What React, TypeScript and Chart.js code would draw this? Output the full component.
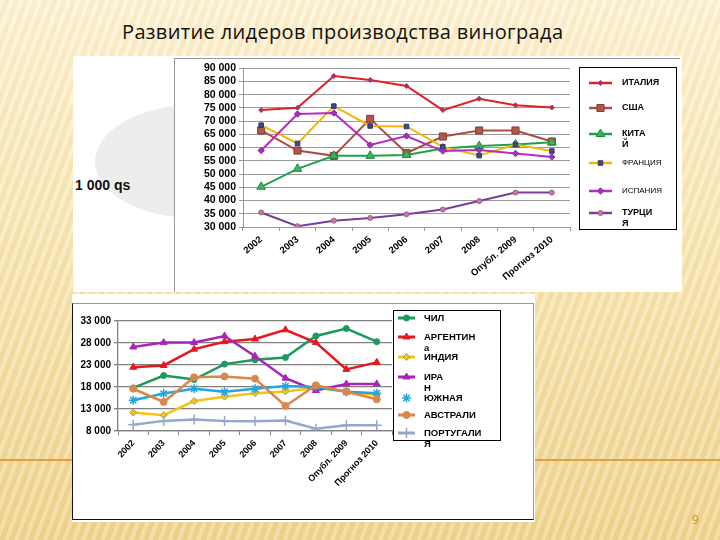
import React, { useEffect, useRef } from "react";
import { Chart, registerables } from "chart.js";
Chart.register(...registerables);

// ---------- DATA ----------
const years = ["2002", "2003", "2004", "2005", "2006", "2007", "2008", "Опубл. 2009", "Прогноз 2010"];

const topTicks = [30000, 35000, 40000, 45000, 50000, 55000, 60000, 65000, 70000, 75000, 80000, 85000, 90000];
const italy = [74200, 75100, 87100, 85600, 83300, 74200, 78500, 76000, 75200];
const usa = [66500, 58900, 56900, 70900, 58000, 64200, 66500, 66500, 62300];
const china = [45200, 52000, 56900, 56900, 57200, 59700, 60600, 61200, 62000];
const france = [68500, 61600, 75700, 68200, 68000, 60300, 57000, 61200, 58700];
const spain = [58900, 72700, 73100, 61000, 64400, 58700, 59100, 57800, 56500];
const turkey = [35500, 30300, 32400, 33400, 34800, 36600, 39800, 43000, 43000];
const topNames = ["ИТАЛИЯ", "США", "КИТАЙ", "ФРАНЦИЯ", "ИСПАНИЯ", "ТУРЦИЯ"];
const topLegendText = [["ИТАЛИЯ"], ["США"], ["КИТА", "Й"], ["ФРАНЦИЯ"], ["ИСПАНИЯ"], ["ТУРЦИ", "Я"]];

const bottomTicks = [8000, 13000, 18000, 23000, 28000, 33000];
const chile = [17800, 20600, 19700, 23200, 24200, 24700, 29600, 31300, 28300];
const argentina = [22500, 22900, 26600, 28300, 28900, 31000, 28100, 22000, 23600];
const india = [12200, 11600, 14800, 15800, 16600, 17000, 17800, 17000, 16200];
const iran = [27100, 28100, 28100, 29600, 25000, 20000, 17200, 18700, 18700];
const southAfrica = [15000, 16500, 17600, 16900, 17600, 18200, 18000, 16900, 16600];
const australia = [17600, 14600, 20200, 20400, 19900, 13700, 18400, 16900, 15200];
const portugal = [9400, 10300, 10600, 10300, 10200, 10400, 8500, 9300, 9300];
const bottomNames = ["ЧИЛИ", "АРГЕНТИНА", "ИНДИЯ", "ИРАН", "ЮЖНАЯ АФРИКА", "АВСТРАЛИЯ", "ПОРТУГАЛИЯ"];
const bottomLegendText = [["ЧИЛ"], ["АРГЕНТИН", "а"], ["ИНДИЯ"], ["ИРА", "Н"], ["ЮЖНАЯ"], ["АВСТРАЛИ"], ["ПОРТУГАЛИ", "Я"]];

// ---------- STYLE ----------
const FONT = "'Liberation Sans', Arial, sans-serif";
const fmt = (v: number) => String(v).replace(/\B(?=(\d{3})+(?!\d))/g, " ");

type Style = { line: string; point: string; stroke: string; shape: string; r: number; w: number; legendLine?: boolean };
const topStyles: Style[] = [
  { line: "#e41e26", point: "#a8355d", stroke: "#a8355d", shape: "rectRot", r: 2.5, w: 2 },
  { line: "#a85042", point: "#b0584d", stroke: "#8b3a30", shape: "rect", r: 5, w: 2 },
  { line: "#1fa24a", point: "#3cb35d", stroke: "#1f8a40", shape: "triangle", r: 5, w: 2 },
  { line: "#f7b500", point: "#3c4a8a", stroke: "#2a3570", shape: "rect", r: 3.2, w: 2 },
  { line: "#b32dc2", point: "#a530c0", stroke: "#8a2aa0", shape: "rectRot", r: 3.2, w: 2 },
  { line: "#7a3ba0", point: "#c77a9a", stroke: "#a06080", shape: "circle", r: 2.5, w: 2 },
];
const bottomStyles: Style[] = [
  { line: "#1a9a5c", point: "#1a9a5c", stroke: "#1a9a5c", shape: "circle", r: 3, w: 2.5 },
  { line: "#e5181e", point: "#e5181e", stroke: "#e5181e", shape: "triangle", r: 4, w: 2.5 },
  { line: "#f5c316", point: "#e8c530", stroke: "#b8a030", shape: "rectRot", r: 3.5, w: 2.5 },
  { line: "#a724b5", point: "#a724b5", stroke: "#a724b5", shape: "triangle", r: 4, w: 2.5 },
  { line: "#23a6df", point: "#23a6df", stroke: "#23a6df", shape: "star", r: 4.5, w: 2.5, legendLine: false },
  { line: "#d9874a", point: "#d9874a", stroke: "#d9874a", shape: "circle", r: 3.5, w: 2.5 },
  { line: "#94a7cc", point: "#94a7cc", stroke: "#94a7cc", shape: "cross", r: 5, w: 2.5 },
];

function drawMarker(ctx: CanvasRenderingContext2D, s: Style, x: number, y: number) {
  const r = s.r;
  ctx.save();
  ctx.fillStyle = s.point;
  ctx.strokeStyle = s.stroke;
  ctx.lineWidth = 1;
  ctx.beginPath();
  if (s.shape === "rect") {
    const h = Math.SQRT1_2 * r;
    ctx.rect(x - h, y - h, 2 * h, 2 * h);
    ctx.fill(); ctx.stroke();
  } else if (s.shape === "rectRot") {
    ctx.moveTo(x, y - r); ctx.lineTo(x + r, y); ctx.lineTo(x, y + r); ctx.lineTo(x - r, y); ctx.closePath();
    ctx.fill(); ctx.stroke();
  } else if (s.shape === "triangle") {
    ctx.moveTo(x, y - r); ctx.lineTo(x + r * 0.866, y + r * 0.5); ctx.lineTo(x - r * 0.866, y + r * 0.5); ctx.closePath();
    ctx.fill(); ctx.stroke();
  } else if (s.shape === "circle") {
    ctx.arc(x, y, r, 0, Math.PI * 2);
    ctx.fill(); ctx.stroke();
  } else if (s.shape === "star") {
    ctx.lineWidth = 1.5;
    for (let i = 0; i < 4; i++) {
      const a = (i * Math.PI) / 4;
      ctx.moveTo(x - Math.cos(a) * r, y - Math.sin(a) * r);
      ctx.lineTo(x + Math.cos(a) * r, y + Math.sin(a) * r);
    }
    ctx.stroke();
  } else if (s.shape === "cross") {
    ctx.lineWidth = 1.5;
    ctx.moveTo(x - r, y); ctx.lineTo(x + r, y); ctx.moveTo(x, y - r); ctx.lineTo(x, y + r);
    ctx.stroke();
  }
  ctx.restore();
}

type LegendLayout = {
  box: [number, number, number, number];
  lineX: [number, number];
  textX: number;
  rows: number[];
  gap: number;
  fonts: string[];
};

function legendPlugin(id: string, styles: Style[], texts: string[][], L: LegendLayout) {
  return {
    id,
    afterDraw(chart: any) {
      const ctx: CanvasRenderingContext2D = chart.ctx;
      ctx.save();
      ctx.strokeStyle = "#000";
      ctx.lineWidth = 1;
      const [bx, by, bw, bh] = L.box;
      ctx.strokeRect(bx + 0.5, by + 0.5, bw, bh);
      chart.data.datasets.forEach((_: any, i: number) => {
        const s = styles[i];
        const y = L.rows[i];
        if (s.legendLine !== false) {
          ctx.strokeStyle = s.line;
          ctx.lineWidth = s.w + 0.5;
          ctx.beginPath();
          ctx.moveTo(L.lineX[0], y);
          ctx.lineTo(L.lineX[1], y);
          ctx.stroke();
        }
        drawMarker(ctx, s, (L.lineX[0] + L.lineX[1]) / 2, y);
        ctx.fillStyle = "#000";
        ctx.font = L.fonts[i];
        ctx.textBaseline = "middle";
        ctx.textAlign = "left";
        texts[i].forEach((t, k) => ctx.fillText(t, L.textX, y + k * L.gap));
      });
      ctx.restore();
    },
  };
}

function makeDatasets(names: string[], series: number[][], styles: Style[]) {
  return series.map((d, i) => {
    const s = styles[i];
    return {
      label: names[i],
      data: d,
      borderColor: s.line,
      backgroundColor: s.point,
      borderWidth: s.w,
      pointStyle: s.shape,
      pointRadius: s.r,
      pointBackgroundColor: s.point,
      pointBorderColor: s.stroke,
      pointBorderWidth: s.shape === "star" || s.shape === "cross" ? 1.5 : 1,
      tension: 0,
      fill: false,
      order: -i,
    };
  });
}

function config(opts: {
  names: string[];
  series: number[][];
  styles: Style[];
  ticks: number[];
  padding: any;
  yWidth: number;
  xHeight: number;
  xFont: number;
  yFont: number;
  rot: number;
  gridColor: string;
  gridWidth: number;
  plugin: any;
}): any {
  const step = opts.ticks[1] - opts.ticks[0];
  return {
    type: "line",
    data: { labels: years, datasets: makeDatasets(opts.names, opts.series, opts.styles) },
    plugins: [opts.plugin],
    options: {
      responsive: false,
      animation: false,
      layout: { padding: opts.padding },
      plugins: { legend: { display: false }, tooltip: { enabled: false } },
      scales: {
        x: {
          offset: true,
          grid: { offset: true, drawOnChartArea: false, drawTicks: true, tickLength: 4, color: opts.gridColor },
          border: { color: opts.gridColor, width: opts.gridWidth },
          ticks: {
            autoSkip: false,
            maxRotation: opts.rot,
            minRotation: opts.rot,
            padding: 3,
            color: "#000",
            font: { family: FONT, size: opts.xFont, weight: "bold" },
          },
          afterFit: (s: any) => { s.height = opts.xHeight; },
        },
        y: {
          min: opts.ticks[0],
          max: opts.ticks[opts.ticks.length - 1],
          grid: { color: opts.gridColor, lineWidth: opts.gridWidth, tickLength: 4 },
          border: { display: true, color: opts.gridColor, width: opts.gridWidth },
          ticks: {
            autoSkip: false,
            stepSize: step,
            padding: 3,
            color: "#000",
            font: { family: FONT, size: opts.yFont, weight: "bold" },
            callback: (v: number) => fmt(v),
          },
          afterFit: (s: any) => { s.width = opts.yWidth; },
        },
      },
    },
  };
}

export default function App() {
  const topRef = useRef<HTMLCanvasElement>(null);
  const botRef = useRef<HTMLCanvasElement>(null);

  useEffect(() => {
    const boldTop = `bold 9px ${FONT}`;
    const normTop = `8px ${FONT}`;
    const c1 = new Chart(
      topRef.current!,
      config({
        names: topNames,
        series: [italy, usa, china, france, spain, turkey],
        styles: topStyles,
        ticks: topTicks,
        padding: { left: 0, right: 110, top: 6, bottom: 0 },
        yWidth: 68,
        xHeight: 65,
        xFont: 9.5,
        yFont: 10.5,
        rot: 40,
        gridColor: "#999999",
        gridWidth: 1,
        plugin: legendPlugin("topLegend", topStyles, topLegendText, {
          box: [404, 8, 97, 162],
          lineX: [414, 437],
          textX: 447,
          rows: [24, 49, 75, 104, 132, 154],
          gap: 11,
          fonts: [boldTop, boldTop, boldTop, normTop, normTop, boldTop],
        }),
      })
    );
    const boldBot = `bold 9.5px ${FONT}`;
    const c2 = new Chart(
      botRef.current!,
      config({
        names: bottomNames,
        series: [chile, argentina, india, iran, southAfrica, australia, portugal],
        styles: bottomStyles,
        ticks: bottomTicks,
        padding: { left: 0, right: 141, top: 24, bottom: 0 },
        yWidth: 46,
        xHeight: 89,
        xFont: 9,
        yFont: 10,
        rot: 47,
        gridColor: "#808080",
        gridWidth: 1.3,
        plugin: legendPlugin("bottomLegend", bottomStyles, bottomLegendText, {
          box: [321, 13, 107, 130],
          lineX: [326, 343],
          textX: 352,
          rows: [21, 40, 60, 80, 101, 118, 136],
          gap: 11,
          fonts: bottomLegendText.map(() => boldBot),
        }),
      })
    );
    return () => {
      c1.destroy();
      c2.destroy();
    };
  }, []);

  return (
    <div
      style={{
        position: "fixed",
        left: 0,
        top: 0,
        width: 720,
        height: 540,
        overflow: "hidden",
        background:
          "repeating-linear-gradient(110deg, rgba(255,255,255,0.22) 0px, rgba(255,255,255,0.22) 4px, rgba(200,160,60,0.08) 4px, rgba(200,160,60,0.08) 9px), linear-gradient(180deg, #fdf3d6 0%, #f8e8b8 40%, #f0d490 100%)",
        fontFamily: FONT,
      }}
    >
      <div
        style={{
          position: "absolute",
          left: 122,
          top: 18,
          fontFamily: "'Open Sans', 'Noto Sans', sans-serif",
          fontSize: 20,
          letterSpacing: 0.35,
          color: "#111",
          whiteSpace: "nowrap",
        }}
      >
        Развитие лидеров производства винограда
      </div>
      <div style={{ position: "absolute", left: 0, top: 459, width: 720, height: 1.5, background: "#e0a040" }} />
      <div style={{ position: "absolute", left: 692, top: 511, fontSize: 12, color: "#d4902a", fontFamily: "'Open Sans', sans-serif" }}>9</div>

      {/* top picture */}
      <div style={{ position: "absolute", left: 73, top: 56, width: 609, height: 236, background: "#fff", overflow: "hidden" }}>
        <div style={{ position: "absolute", left: 22, top: 49, width: 200, height: 113, borderRadius: "50%", background: "#ededed" }} />
        <div style={{ position: "absolute", left: 2, top: 121, fontSize: 14, fontWeight: "bold", color: "#111", whiteSpace: "nowrap" }}>
          1 000 qs
        </div>
      </div>
      <div
        style={{
          position: "absolute",
          left: 174,
          top: 58,
          width: 506,
          height: 234,
          background: "#fff",
          borderLeft: "1px solid #999",
          borderTop: "1px solid #999",
          boxSizing: "border-box",
        }}
      >
        <canvas ref={topRef} width={505} height={233} style={{ display: "block" }} />
      </div>

      {/* bottom picture */}
      <div style={{ position: "absolute", left: 72, top: 294, width: 463, height: 228, background: "#fff" }} />
      <div
        style={{
          position: "absolute",
          left: 72,
          top: 303,
          width: 462,
          height: 217,
          borderLeft: "1px solid #111",
          borderBottom: "1px solid #111",
          borderTop: "1px solid #999",
          borderRight: "1px solid #999",
          boxSizing: "border-box",
        }}
      />
      <div style={{ position: "absolute", left: 72, top: 297, width: 461, height: 223 }}>
        <canvas ref={botRef} width={461} height={223} style={{ display: "block" }} />
      </div>
    </div>
  );
}
